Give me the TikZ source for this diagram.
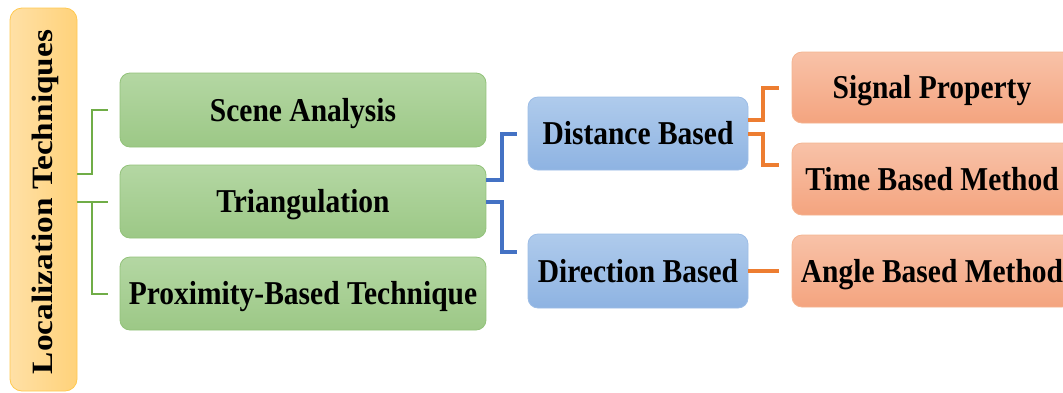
\documentclass[tikz,border=0pt]{standalone}
\usepackage{fontspec}
\setmainfont{Liberation Serif}
\usepackage{graphicx}
\definecolor{ylwL}{HTML}{FFE0A6}
\definecolor{ylwR}{HTML}{FFD27A}
\definecolor{ylwB}{HTML}{FFC94F}
\definecolor{grnT}{HTML}{B4D7A3}
\definecolor{grnB}{HTML}{9CC886}
\definecolor{grnD}{HTML}{92C27A}
\definecolor{bluT}{HTML}{AFCBEC}
\definecolor{bluB}{HTML}{8EB3E2}
\definecolor{bluD}{HTML}{9DBDE6}
\definecolor{orgT}{HTML}{F8C2A8}
\definecolor{orgB}{HTML}{F4A47F}
\definecolor{orgD}{HTML}{F4B490}
\definecolor{lnG}{HTML}{70AD47}
\definecolor{lnB}{HTML}{4472C4}
\definecolor{lnO}{HTML}{ED7D31}
\newcommand{\lbl}[1]{\scalebox{1}[1.13]{\fontsize{29.5pt}{32pt}\selectfont\bfseries #1}}
\newcommand{\vlbl}[1]{\scalebox{1.13}[1]{\fontsize{29.5pt}{32pt}\selectfont\bfseries #1}}
\tikzset{
  box/.style={rounded corners=10pt, inner sep=0pt, line width=0.8pt, align=center,
    text height=22pt, text depth=0pt},
  rootbox/.style={box, rounded corners=12pt, draw=ylwB, left color=ylwL, right color=ylwR},
  gbox/.style={box, draw=grnD, top color=grnT, bottom color=grnB, minimum width=366pt},
  bbox/.style={box, draw=bluD, top color=bluT, bottom color=bluB, minimum width=220pt},
  obox/.style={box, draw=orgD, top color=orgT, bottom color=orgB, minimum width=280pt},
  vtext/.style={rotate=90, inner sep=0pt, text height=19.5pt, text depth=0pt},
  gline/.style={draw=lnG, line width=2pt},
  bline/.style={draw=lnB, line width=4pt},
  oline/.style={draw=lnO, line width=4pt},
}
\begin{document}
\begin{tikzpicture}[x=1pt, y=-1pt]
\useasboundingbox (0,0) rectangle (1063,392);
\clip (0,0) rectangle (1063,392);

% root
\node[rootbox, minimum width=67pt, minimum height=383pt] (L) at (43.5,199.5) {};
\node[vtext] (Lt) at (42.5,202) {\vlbl{Localization Techniques}};

% first level
\node[gbox, minimum height=74pt] (scene) at (303,110) {\lbl{Scene Analysis}};
\node[gbox, minimum height=73pt] (tri) at (303,201.5) {\lbl{Triangulation}};
\node[gbox, minimum height=73pt] (prox) at (303,293.5) {\lbl{Proximity-Based Technique}};

% second level
\node[bbox, minimum height=73pt] (dist) at (638,133.5) {\lbl{Distance Based}};
\node[bbox, minimum height=74pt] (dir) at (638,271) {\lbl{Direction Based}};

% third level
\node[obox, minimum height=71pt] (sig) at (932,87.5) {\lbl{Signal Property}};
\node[obox, minimum height=72pt] (time) at (932,179) {\lbl{Time Based Method}};
\node[obox, minimum height=72pt] (ang) at (932,271) {\lbl{Angle Based Method}};

% root connectors
\draw[gline] ([yshift=25.5pt]L.east) -- ++(15,0) |- ([xshift=-12pt]scene.west);
\draw[gline] (L.east |- tri.west) -- ([xshift=-12pt]tri.west);
\draw[gline] ([xshift=15pt]L.east |- tri.west) |- ([xshift=-12pt]prox.west);

% triangulation connectors
\draw[bline] ([yshift=21.5pt]tri.east) -- ++(16,0) |- ([xshift=-11pt]dist.west);
\draw[bline] (tri.east) -- ++(16,0) |- ([xshift=-11pt,yshift=19pt]dir.west);

% method connectors
\draw[oline] ([yshift=13.5pt]dist.east) -- ++(15,0) |- ([xshift=-13pt]sig.west);
\draw[oline] (dist.east) -- ++(15,0) |- ([xshift=-13pt,yshift=14pt]time.west);
\draw[oline] (dir.east) -- ([xshift=-13pt]ang.west);
\end{tikzpicture}
\end{document}
